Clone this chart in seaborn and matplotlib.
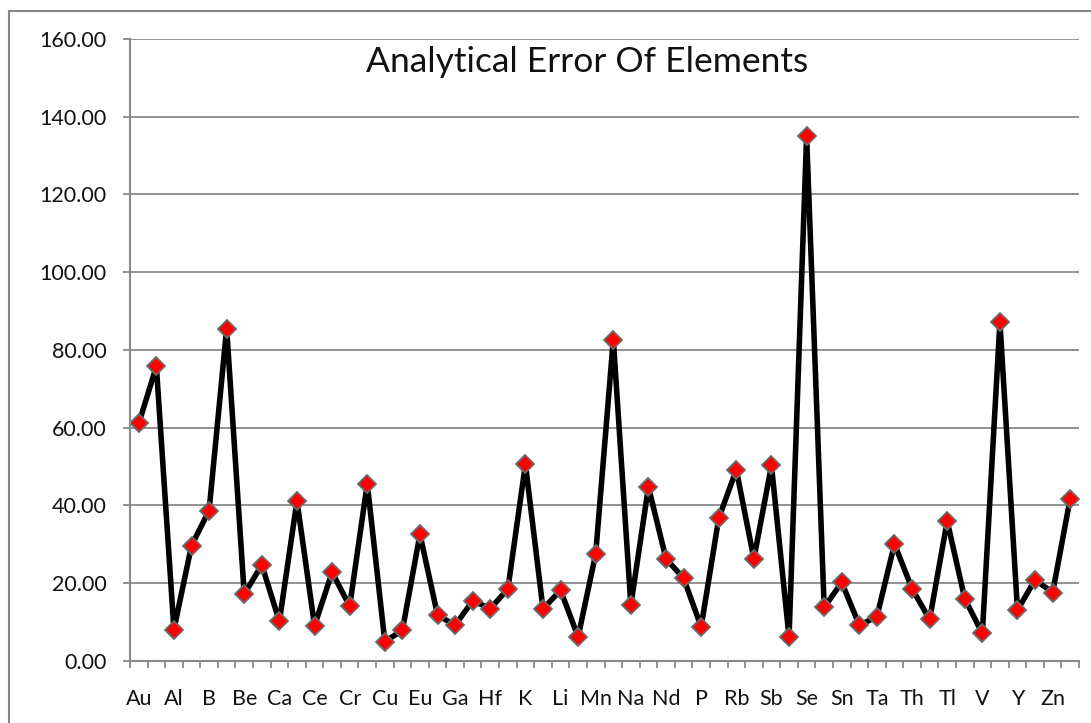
import numpy as np
import pandas as pd
import seaborn as sns
import matplotlib.pyplot as plt
from matplotlib.patches import Rectangle

# Elements in the order they are plotted (only every second one is labelled)
elements = ["Au", "Ag", "Al", "As", "B", "Ba", "Be", "Bi", "Ca", "Cd",
            "Ce", "Co", "Cr", "Cs", "Cu", "Dy", "Eu", "Fe", "Ga", "Gd",
            "Hf", "Ho", "K", "La", "Li", "Lu", "Mn", "Mo", "Na", "Nb",
            "Nd", "Ni", "P", "Pb", "Rb", "S", "Sb", "Sc", "Se", "Sm",
            "Sn", "Sr", "Ta", "Tb", "Th", "Ti", "Tl", "U", "V", "W",
            "Y", "Yb", "Zn", "Zr"]

# Analytical error (%) for each element
errors = [61.1, 75.8, 8.1, 29.7, 38.7, 85.5, 17.2, 24.7, 10.2, 41.2,
          9.1, 22.8, 14.1, 45.6, 5.0, 7.9, 32.6, 11.8, 9.2, 15.5,
          13.5, 18.5, 50.6, 13.4, 18.2, 6.2, 27.6, 82.7, 14.4, 44.8,
          26.3, 21.3, 8.8, 36.7, 49.2, 26.3, 50.3, 6.2, 135.0, 13.8,
          20.2, 9.2, 11.4, 30.1, 18.6, 10.7, 36.0, 16.0, 7.1, 87.2,
          13.1, 20.9, 17.6, 41.8]

y_ticks = [0, 20, 40, 60, 80, 100, 120, 140, 160]
title = "Analytical Error Of Elements"

sns.set_theme(style="white")
plt.rcParams["font.family"] = ["Lato", "DejaVu Sans"]

W, H = 1091, 723
fig = plt.figure(figsize=(W / 100, H / 100), dpi=100)
fig.patch.set_facecolor("white")

# outer chart-area frame
fig.patches.append(Rectangle((9 / W, -0.1), 1.2, 1 - 11 / H + 0.1,
                             transform=fig.transFigure, fill=False,
                             edgecolor="#868686", linewidth=1.5))

ax = fig.add_axes([130 / W, 1 - 661 / H, (1079 - 130) / W, (661 - 39) / H])

df = pd.DataFrame({"pos": np.arange(len(elements)),
                   "Element": elements,
                   "Error": errors})

sns.lineplot(data=df, x="pos", y="Error", sort=False, ax=ax,
             color="black", linewidth=4.0,
             marker="D", markersize=9.5, markerfacecolor="#FF0000",
             markeredgecolor="#6a6a6a", markeredgewidth=1.3)

grid_c = "#898989"
ax.set_ylim(0, 160)
ax.set_xlim(-0.5, len(elements) - 0.5)
ax.set_yticks(y_ticks)
ax.set_yticklabels([f"{v:.2f}" for v in y_ticks])
ax.yaxis.grid(True, color=grid_c, linewidth=1.3)
ax.xaxis.grid(False)
ax.set_axisbelow(True)

# category-boundary tick marks, labels on every other category
ax.set_xticks(np.arange(-0.5, len(elements), 1.0))
ax.set_xticklabels([])
ax.set_xticks(np.arange(0, len(elements), 2), minor=True)
ax.set_xticklabels(elements[::2], minor=True)

ax.tick_params(axis="x", which="major", direction="out", length=5,
               width=1.3, color=grid_c, bottom=True)
ax.tick_params(axis="x", which="minor", length=0, pad=20,
               labelsize=15.5, labelcolor="#111111")
ax.tick_params(axis="y", direction="out", length=5, width=1.3,
               color=grid_c, left=True, pad=12, labelsize=15.5,
               labelcolor="#111111")

for side in ["top", "right"]:
    ax.spines[side].set_visible(False)
for side in ["left", "bottom"]:
    ax.spines[side].set_color(grid_c)
    ax.spines[side].set_linewidth(1.5)

ax.set_xlabel("")
ax.set_ylabel("")

fig.text(587 / W, 1 - 62 / H, title, ha="center", va="center",
         fontsize=25.5, color="#111111")

fig.savefig("out.png", dpi=100, facecolor="white")
